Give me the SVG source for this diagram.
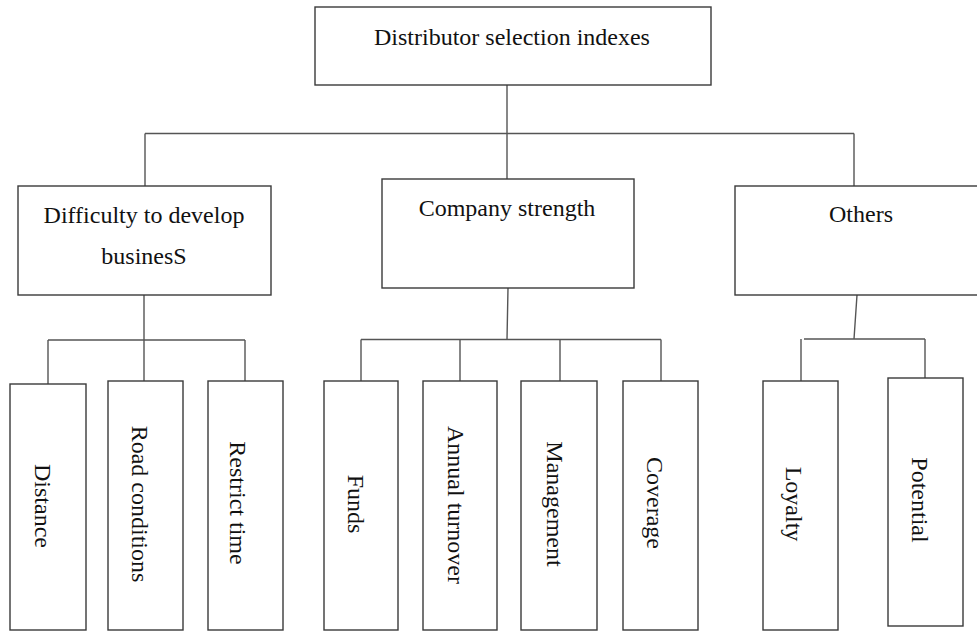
<svg xmlns="http://www.w3.org/2000/svg" width="977" height="631" viewBox="0 0 977 631">
<style>
.box{fill:#fff;stroke:#3a3a3a;stroke-width:1.4}
.ln{fill:none;stroke:#555;stroke-width:1.4}
.t{font-family:"Liberation Serif","Times New Roman",serif;font-size:24px;fill:#111;text-anchor:middle}
.v{font-family:"Liberation Serif","Times New Roman",serif;font-size:24px;fill:#111;text-anchor:middle}
</style>
<rect width="977" height="631" fill="#fff"/>
<g id="connectors">
<path class="ln" d="M507,85 V179 M145,133.5 H854 M145,133.5 V186 M854,133.5 V186"/>
<path class="ln" d="M144,295 V381 M48,340 H245 M48,340 V384 M245,340 V381"/>
<path class="ln" d="M508,288 L507,339.5 M361,339.5 H661 M361,339.5 V381 M460,339.5 V381 M560,339.5 V381 M661,339.5 V381"/>
<path class="ln" d="M857,295 L854,339 M804,339 H925 M801,339 V381 M925,339 V378"/>
</g>
<g id="root"><rect class="box" x="315" y="7" width="396" height="78"/><text class="t" x="512" y="45">Distributor selection indexes</text></g>
<g id="difficulty"><rect class="box" x="18" y="186" width="253" height="109"/><text class="t" x="144" y="223">Difficulty to develop</text><text class="t" x="144" y="264">businesS</text></g>
<g id="company"><rect class="box" x="382" y="179" width="252" height="109"/><text class="t" x="507" y="216">Company strength</text></g>
<g id="others"><rect class="box" x="735" y="186" width="250" height="109"/><text class="t" x="861" y="222">Others</text></g>
<g id="distance"><rect class="box" x="10" y="384" width="76" height="246"/><text class="v" transform="translate(35,506) rotate(90)">Distance</text></g>
<g id="road"><rect class="box" x="108" y="381" width="75" height="249"/><text class="v" transform="translate(132,504) rotate(90)">Road conditions</text></g>
<g id="restrict"><rect class="box" x="208" y="381" width="75" height="249"/><text class="v" transform="translate(230,503) rotate(90)">Restrict time</text></g>
<g id="funds"><rect class="box" x="324" y="381" width="74" height="249"/><text class="v" transform="translate(348,504) rotate(90)">Funds</text></g>
<g id="turnover"><rect class="box" x="423" y="381" width="74" height="249"/><text class="v" transform="translate(448,505) rotate(90)">Annual turnover</text></g>
<g id="management"><rect class="box" x="521" y="381" width="76" height="249"/><text class="v" transform="translate(547,504) rotate(90)">Management</text></g>
<g id="coverage"><rect class="box" x="623" y="381" width="75" height="249"/><text class="v" transform="translate(647,503) rotate(90)">Coverage</text></g>
<g id="loyalty"><rect class="box" x="763" y="381" width="75" height="249"/><text class="v" transform="translate(786,504) rotate(90)">Loyalty</text></g>
<g id="potential"><rect class="box" x="888" y="378" width="75" height="248"/><text class="v" transform="translate(912,500) rotate(90)">Potential</text></g>
</svg>
